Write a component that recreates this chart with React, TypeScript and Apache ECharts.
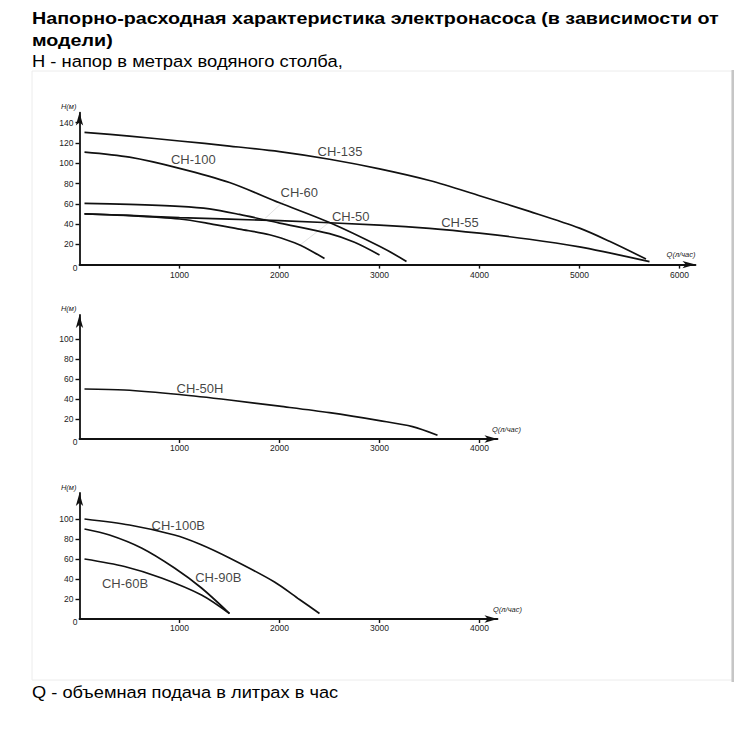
import { useEffect, useRef } from 'react';
import * as echarts from 'echarts';

// ---------- texts ----------
const titleLine1 = 'Напорно-расходная характеристика электронасоса (в зависимости от';
const titleLine2 = 'модели)';
const subtitleH = 'H - напор в метрах водяного столба,';
const footerQ = 'Q - объемная подача в литрах в час';
const yName = 'H(м)';
const xName = 'Q(л/час)';

// ---------- axis ticks ----------
const xTicksTop = [1000, 2000, 3000, 4000, 5000, 6000];
const xTicksSmall = [1000, 2000, 3000, 4000];
const yTicksTop = [20, 40, 60, 80, 100, 120, 140];
const yTicksSmall = [20, 40, 60, 80, 100];

// ---------- panel 1 curves (Q l/h, H m) ----------
const ch135Q = [50, 500, 1000, 1500, 2000, 2500, 3000, 3500, 4000, 4500, 5000, 5300, 5665];
const ch135H = [130.5, 126.8, 122, 117, 111.5, 104, 94.5, 83, 68, 52.5, 36, 23, 5.5];
const ch100Q = [50, 500, 1000, 1500, 2000, 2500, 3000, 3270];
const ch100H = [111, 106, 95, 81, 61, 41.5, 18, 3];
const ch60Q = [50, 500, 1000, 1300, 1600, 2000, 2500, 2750, 3000];
const ch60H = [60.5, 59.5, 57.5, 55, 49.5, 41, 30.5, 22, 9.5];
const ch50Q = [50, 500, 1000, 1300, 1600, 1900, 2150, 2300, 2450];
const ch50H = [50, 48.3, 45, 40.5, 35, 29.5, 21.5, 14.5, 6];
const ch55Q = [50, 500, 1000, 2000, 3000, 3500, 4000, 4500, 5000, 5300, 5700];
const ch55H = [50, 48.5, 46.3, 43.3, 39, 35.8, 31, 25, 17.5, 11.5, 3];

// ---------- panel 2 ----------
const ch50nQ = [50, 450, 1000, 1500, 2000, 2500, 3000, 3330, 3580];
const ch50nH = [50, 49, 44.5, 39, 32.8, 26.3, 18.4, 12.4, 3.8];

// ---------- panel 3 ----------
const ch100bQ = [50, 500, 950, 1200, 1500, 1950, 2200, 2400];
const ch100bH = [100, 94, 84, 75, 61, 37, 19.5, 5.5];
const ch90bQ = [50, 300, 620, 950, 1220, 1500];
const ch90bH = [90, 84, 71, 51, 31, 5.5];
const ch60bQ = [50, 450, 820, 1220, 1500];
const ch60bH = [60, 52.5, 41, 24, 5.5];

// ---------- curve labels ----------
const p1LabelNames = ['CH-135', 'CH-100', 'CH-60', 'CH-50', 'CH-55'];
const p1LabelQ = [2605, 1138, 2198, 2712, 3805];
const p1LabelH = [111.4, 103.9, 70.9, 47.3, 41.3];
const p2LabelNames = ['CH-50H'];
const p2LabelQ = [1205];
const p2LabelH = [50.3];
const p3LabelNames = ['CH-100B', 'CH-90B', 'CH-60B'];
const p3LabelQ = [988, 1388, 455];
const p3LabelH = [93.5, 41.3, 35.7];

// faint leader lines from labels to curves (panel 1)
const leader60Q = [2055, 1838];
const leader60H = [63.7, 44];
const leader50Q = [2505, 2205];
const leader50H = [42.3, 19.3];

const FONT = '"Liberation Sans", Arial, sans-serif';
const INK = '#111111';

const zip = (q: number[], h: number[]) => q.map((v, i) => [v, h[i]]);

function curve(q: number[], h: number[], idx: number) {
  return {
    type: 'line',
    xAxisIndex: idx,
    yAxisIndex: idx,
    data: zip(q, h),
    smooth: 0.3,
    showSymbol: false,
    silent: true,
    lineStyle: { color: INK, width: 1.7 },
    z: 3,
  };
}

function leader(q: number[], h: number[], idx: number) {
  return {
    type: 'line',
    xAxisIndex: idx,
    yAxisIndex: idx,
    data: zip(q, h),
    showSymbol: false,
    silent: true,
    lineStyle: { color: '#e2e2e2', width: 1 },
    z: 1,
  };
}

function labels(names: string[], q: number[], h: number[], idx: number) {
  return {
    type: 'scatter',
    xAxisIndex: idx,
    yAxisIndex: idx,
    data: names.map((n, i) => [q[i], h[i], n]),
    symbolSize: 1,
    itemStyle: { color: 'transparent' },
    silent: true,
    label: {
      show: true,
      position: 'inside',
      formatter: (p: any) => p.data[2],
      fontSize: 13,
      fontFamily: FONT,
      color: INK,
    },
    z: 4,
  };
}

function xAxis(idx: number, max: number, ticks: number[], labelMargin: number, nameGap: number, nameAlign: string) {
  return {
    type: 'value',
    gridIndex: idx,
    min: 0,
    max,
    name: xName,
    nameLocation: 'end',
    nameGap,
    nameTextStyle: {
      fontSize: 7.5,
      fontStyle: 'italic',
      fontFamily: FONT,
      color: '#222',
      align: nameAlign,
      verticalAlign: 'bottom',
      padding: [0, 0, 6, 0],
    },
    axisLine: {
      show: true,
      onZero: false,
      symbol: ['none', 'arrow'],
      symbolSize: [5.5, 13],
      lineStyle: { color: INK, width: 1.8 },
    },
    axisTick: { show: true, customValues: ticks, length: 4, inside: false, lineStyle: { color: INK, width: 1.4 } },
    axisLabel: {
      customValues: ticks,
      fontSize: 8.5,
      fontFamily: FONT,
      color: '#222',
      margin: labelMargin,
      formatter: (v: number) => String(v),
    },
    splitLine: { show: false },
  };
}

function yAxis(idx: number, max: number, ticks: number[], nameGap: number) {
  return {
    type: 'value',
    gridIndex: idx,
    min: 0,
    max,
    name: yName,
    nameLocation: 'end',
    nameGap,
    nameTextStyle: {
      fontSize: 7.5,
      fontStyle: 'italic',
      fontFamily: FONT,
      color: '#222',
      align: 'right',
      verticalAlign: 'middle',
      padding: [0, 3, 0, 0],
    },
    axisLine: {
      show: true,
      onZero: false,
      symbol: ['none', 'arrow'],
      symbolSize: [5.5, 13],
      lineStyle: { color: INK, width: 1.8 },
    },
    axisTick: { show: true, customValues: ticks, length: 4, inside: false, lineStyle: { color: INK, width: 1.4 } },
    axisLabel: {
      customValues: [0, ...ticks],
      fontSize: 8.5,
      fontFamily: FONT,
      color: '#222',
      margin: 6,
      formatter: (v: number) => (v === 0 ? '{z|0}' : String(v)),
      rich: { z: { fontSize: 8.5, fontFamily: FONT, color: '#222', padding: [6, -4, 0, 0] } },
    },
    splitLine: { show: false },
  };
}

function headerText(text: string, y: number, bold: boolean, scaleX: number) {
  return {
    type: 'text',
    x: 32,
    y,
    scaleX,
    silent: true,
    style: {
      text,
      fontSize: 17,
      fontWeight: bold ? 'bold' : 'normal',
      fontFamily: FONT,
      fill: '#000',
      verticalAlign: 'middle',
      align: 'left',
    },
  };
}

export default function App() {
  const ref = useRef<HTMLDivElement>(null);
  useEffect(() => {
    if (!ref.current) return;
    const chart = echarts.init(ref.current, null, { renderer: 'svg' });
    chart.setOption({
      animation: false,
      backgroundColor: '#ffffff',
      textStyle: { fontFamily: FONT },
      grid: [
        { left: 79.5, top: 112.6, width: 616, height: 152 },
        { left: 79.5, top: 315, width: 418, height: 124 },
        { left: 79.5, top: 493, width: 418, height: 126 },
      ],
      xAxis: [
        xAxis(0, 6160, xTicksTop, 6, 0, 'right'),
        xAxis(1, 4180, xTicksSmall, 4, -5.5, 'left'),
        xAxis(2, 4180, xTicksSmall, 4, -4.5, 'left'),
      ],
      yAxis: [
        yAxis(0, 150, yTicksTop, 6),
        yAxis(1, 124, yTicksSmall, 7),
        yAxis(2, 126, yTicksSmall, 6),
      ],
      graphic: [
        headerText(titleLine1, 18, true, 1.16),
        headerText(titleLine2, 40, true, 1.16),
        headerText(subtitleH, 61, false, 1.08),
        headerText(footerQ, 692, false, 1.073),
        {
          type: 'rect',
          silent: true,
          shape: { x: 32, y: 71, width: 700, height: 609 },
          style: { fill: 'none', stroke: '#ececec', lineWidth: 1 },
        },
        {
          type: 'rect',
          silent: true,
          shape: { x: 731.5, y: 70, width: 2.5, height: 612 },
          style: { fill: '#c6c6c6' },
        },
      ],
      series: [
        curve(ch135Q, ch135H, 0),
        curve(ch100Q, ch100H, 0),
        curve(ch60Q, ch60H, 0),
        curve(ch50Q, ch50H, 0),
        curve(ch55Q, ch55H, 0),
        leader(leader60Q, leader60H, 0),
        leader(leader50Q, leader50H, 0),
        labels(p1LabelNames, p1LabelQ, p1LabelH, 0),
        curve(ch50nQ, ch50nH, 1),
        labels(p2LabelNames, p2LabelQ, p2LabelH, 1),
        curve(ch100bQ, ch100bH, 2),
        curve(ch90bQ, ch90bH, 2),
        curve(ch60bQ, ch60bH, 2),
        labels(p3LabelNames, p3LabelQ, p3LabelH, 2),
      ],
    });
    return () => chart.dispose();
  }, []);
  return (
    <div
      ref={ref}
      style={{ position: 'absolute', left: 0, top: 0, width: 755, height: 731, background: '#fff' }}
    />
  );
}
